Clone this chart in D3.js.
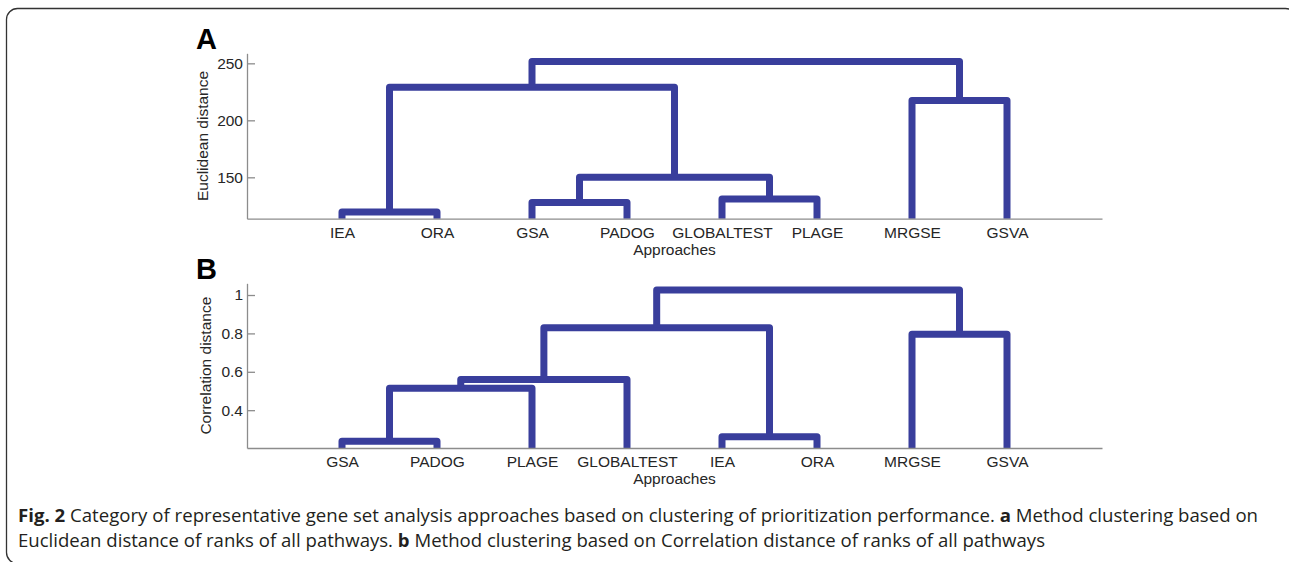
<!DOCTYPE html>
<html>
<head>
<meta charset="utf-8">
<script src="https://cdn.jsdelivr.net/npm/d3@7"></script>
<style>
  body { margin: 0; background: #fff; }
  svg { display: block; }
  .axis path, .axis line { stroke: #8c8c8c; stroke-width: 1.3; }
  .axis text { font-family: "Liberation Sans", Arial, sans-serif; font-size: 15.5px; fill: #262626; }
  .link { fill: none; stroke: #393e9c; stroke-width: 7; stroke-linejoin: round; }
</style>
</head>
<body>
<svg id="chart" width="1289" height="562"></svg>
<script>
// panel A: euclidean distance
var leavesA = ['IEA', 'ORA', 'GSA', 'PADOG', 'GLOBALTEST', 'PLAGE', 'MRGSE', 'GSVA'];
// [left node, right node, height]; nodes 0-7 are leaves, 8+ are merged clusters in order
var mergesA = [
  [0, 1, 119.5],
  [2, 3, 128],
  [4, 5, 131],
  [9, 10, 150],
  [6, 7, 217.5],
  [8, 11, 229],
  [13, 12, 251.5]
];
var ticksA = [150, 200, 250];

// panel B: correlation distance
var leavesB = ['GSA', 'PADOG', 'PLAGE', 'GLOBALTEST', 'IEA', 'ORA', 'MRGSE', 'GSVA'];
var mergesB = [
  [0, 1, 0.238],
  [8, 2, 0.514],
  [9, 3, 0.56],
  [4, 5, 0.262],
  [10, 11, 0.83],
  [6, 7, 0.795],
  [12, 13, 1.026]
];
var ticksB = [0.4, 0.6, 0.8, 1];

var svg = d3.select('#chart');

// rounded frame around the figure
svg.append('rect')
  .attr('x', 6.5).attr('y', 8.5)
  .attr('width', 1290).attr('height', 555)
  .attr('rx', 11)
  .attr('fill', 'none')
  .attr('stroke', '#333')
  .attr('stroke-width', 1.3);

function dendrogram(opts) {
  var g = svg.append('g');
  var x = d3.scaleLinear().domain([0, opts.leaves.length + 1]).range([247, 1102]);
  var y = d3.scaleLinear().domain(opts.yDomain).range([opts.bottom, opts.top]);

  // node positions: leaves sit on the axis floor, clusters at the mean of children
  var nodes = opts.leaves.map(function(name, i) {
    return {x: x(i + 1), h: opts.yDomain[0]};
  });
  opts.merges.forEach(function(m) {
    var a = nodes[m[0]], b = nodes[m[1]];
    nodes.push({x: (a.x + b.x) / 2, h: m[2], a: a, b: b});
  });

  g.selectAll('path.link')
    .data(nodes.filter(function(d) { return d.a; }))
    .enter()
    .append('path')
    .attr('class', 'link')
    .attr('d', function(d) {
      return 'M' + d.a.x + ',' + y(d.a.h) +
        'V' + y(d.h) + 'H' + d.b.x + 'V' + y(d.b.h);
    });

  var yAxis = d3.axisLeft(y)
    .tickValues(opts.ticks)
    .tickFormat(d3.format('~g'))
    .tickSizeInner(-8)
    .tickSizeOuter(0)
    .tickPadding(4);
  g.append('g')
    .attr('class', 'axis')
    .attr('transform', 'translate(247,0)')
    .call(yAxis);

  var xAxis = d3.axisBottom(x)
    .tickValues(d3.range(1, opts.leaves.length + 1))
    .tickFormat(function(d) { return opts.leaves[d - 1]; })
    .tickSize(0)
    .tickPadding(8);
  g.append('g')
    .attr('class', 'axis')
    .attr('transform', 'translate(0,' + opts.bottom + ')')
    .call(xAxis);

  g.append('text')
    .attr('x', 674.5)
    .attr('y', opts.bottom + 36)
    .attr('text-anchor', 'middle')
    .style('font-family', '"Liberation Sans", Arial, sans-serif')
    .style('font-size', '15.5px')
    .style('fill', '#262626')
    .text('Approaches');

  g.append('text')
    .attr('transform', 'translate(' + opts.labelX + ',' + ((opts.top + opts.bottom) / 2) + ') rotate(-90)')
    .attr('text-anchor', 'middle')
    .style('font-family', '"Liberation Sans", Arial, sans-serif')
    .style('font-size', '15.5px')
    .style('fill', '#262626')
    .text(opts.yLabel);

  g.append('text')
    .attr('x', 196)
    .attr('y', opts.top - 4)
    .style('font-family', '"Liberation Sans", Arial, sans-serif')
    .style('font-size', '29px')
    .style('font-weight', 'bold')
    .style('fill', '#000')
    .text(opts.letter);
}

dendrogram({
  leaves: leavesA, merges: mergesA, ticks: ticksA,
  yDomain: [113.7, 258.8], top: 53.3, bottom: 218.7,
  yLabel: 'Euclidean distance', labelX: 208, letter: 'A'
});

dendrogram({
  leaves: leavesB, merges: mergesB, ticks: ticksB,
  yDomain: [0.203, 1.061], top: 283.3, bottom: 448,
  yLabel: 'Correlation distance', labelX: 211, letter: 'B'
});

// caption
var caption = [
  [['Fig. 2', true], [' Category of representative gene set analysis approaches based on clustering of prioritization performance. ', false],
   ['a', true], [' Method clustering based on', false]],
  [['Euclidean distance of ranks of all pathways. ', false], ['b', true],
   [' Method clustering based on Correlation distance of ranks of all pathways', false]]
];
var captionWidth = [1240, 1027];

caption.forEach(function(line, i) {
  var t = svg.append('text')
    .attr('x', 18)
    .attr('y', 522 + i * 25)
    .attr('textLength', captionWidth[i])
    .attr('lengthAdjust', 'spacingAndGlyphs')
    .style('font-family', '"Open Sans", "Noto Sans", sans-serif')
    .style('font-size', '17.5px')
    .style('fill', '#231f20');
  line.forEach(function(part) {
    t.append('tspan')
      .style('font-weight', part[1] ? 'bold' : 'normal')
      .text(part[0]);
  });
});
</script>
</body>
</html>
